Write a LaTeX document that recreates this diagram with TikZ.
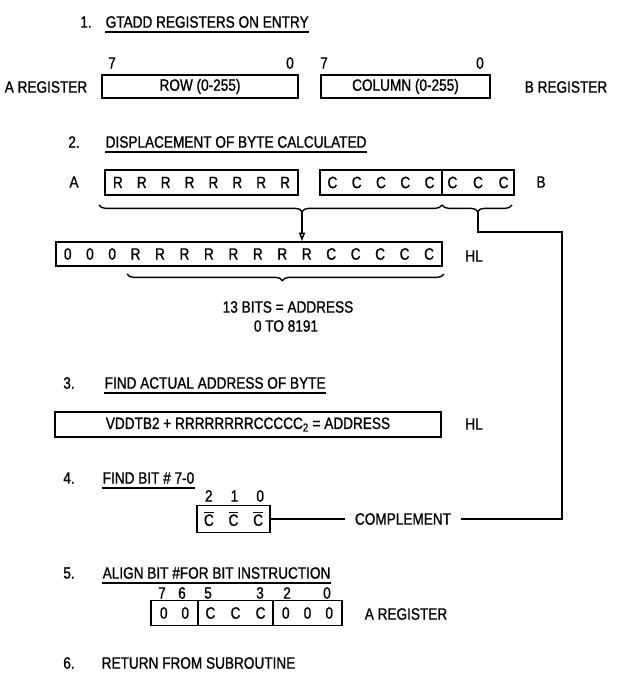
\documentclass[tikz,border=0pt]{standalone}
\usepackage{fontspec}
\setmainfont{Liberation Sans}[FakeStretch=0.83, FakeBold=1]
\usetikzlibrary{positioning, arrows.meta, decorations.pathreplacing}

\newcommand{\spread}[2]{\makebox[#1][s]{#2}}
\newcommand{\cbar}{$\overline{\mbox{C}}$}

\begin{document}
\begin{tikzpicture}[x=0.03cm, y=-0.03cm, line width=1.2pt,
  font=\fontsize{14}{16}\selectfont,
  hd/.style={anchor=west, inner xsep=0pt, inner ysep=3pt},
  ul/.style={line width=1pt},
  reg/.style={draw, line width=1.4pt, inner sep=0pt, outer sep=0pt, minimum height=0.75cm},
  brc/.style={decorate, decoration={brace, mirror, amplitude=0.2cm, aspect=#1}}]
\useasboundingbox (0,0) rectangle (623,677);

% 1. registers on entry
\node (n1) at (86,22) {1.};
\node[hd] (h1) at (105,22) {GTADD REGISTERS ON ENTRY};
\draw[ul] (h1.south west) -- (h1.south east);
\node (ra7) at (112,63) {7};
\node (ra0) at (290,63) {0};
\node (rb7) at (324,63) {7};
\node (rb0) at (480,63) {0};
\node[reg, minimum width=5.88cm, minimum height=0.69cm] (rowbox) at (200,86.5) {ROW (0-255)};
\node[reg, minimum width=5.07cm, minimum height=0.69cm] (colbox) at (405.5,86.5) {COLUMN (0-255)};
\node (areg) at (46,87) {A REGISTER};
\node (breg) at (566,87) {B REGISTER};

% 2. displacement
\node (n2) at (74,142) {2.};
\node[hd] (h2) at (105,142) {DISPLACEMENT OF BYTE CALCULATED};
\draw[ul] (h2.south west) -- (h2.south east);
\node (alab) at (74,182) {A};
\node[reg, minimum width=5.79cm] (rbox) at (201.5,182.5) {\spread{5.31cm}{R R R R R R R R}};
\node[reg, minimum width=3.66cm] (cbox) at (381,182.5) {\spread{3.21cm}{C C C C C}};
\node[reg, minimum width=2.16cm, right=0pt of cbox] (cbits) {\spread{1.83cm}{C C C}};
\node (blab) at (541,182) {B};
\draw[brc=0.592] (99,205) -- (442,205);
\draw[brc=0.51] (442,205) -- (512,205);
\coordinate (tipA) at (302,212);
\coordinate (tipB) at (478,212);
\coordinate (bend) at (562,232);

\node[reg, minimum width=11.58cm, minimum height=0.72cm] (hlbox) at (249,254) {\spread{11.1cm}{0 0 0 R R R R R R R R C C C C C}};
\node (hl1) at (474,256) {HL};
\draw[-{Latex[open,length=8pt,width=6pt]}] (tipA) -- (tipA |- hlbox.north);
\draw[brc=0.49] (127,274) -- (444,274);
\node (bits) at (288,307) {13 BITS = ADDRESS};
\node (range) at (286,326) {0 TO 8191};

% 3. actual address
\node (n3) at (69,383) {3.};
\node[hd] (h3) at (104,383) {FIND ACTUAL ADDRESS OF BYTE};
\draw[ul] (h3.south west) -- (h3.south east);
\node[reg, minimum width=11.58cm] (adbox) at (248,424.5) {VDDTB2 + RRRRRRRRCCCCC\textsubscript{2} = ADDRESS};
\node (hl2) at (474,424) {HL};

% 4. bit number
\node (n4) at (69,478) {4.};
\node[hd] (h4) at (102,478) {FIND BIT \# 7-0};
\draw[ul] (h4.south west) -- (h4.south east);
\node (d210) at (234.5,496) {\spread{1.77cm}{2 1 0}};
\node[reg, minimum width=2.19cm, minimum height=0.8cm] (bitbox) at (233.5,519) {\spread{1.77cm}{\cbar{} \cbar{} \cbar}};
\node[inner xsep=8pt] (comp) at (403,519) {COMPLEMENT};
\draw (bitbox.east) -- (comp.west);
\draw (tipB) |- (bend) |- (comp.east);

% 5. align
\node (n5) at (69,573) {5.};
\node[hd] (h5) at (102,573) {ALIGN BIT \#FOR BIT INSTRUCTION};
\draw[ul] (h5.south west) -- (h5.south east);
\node (p7) at (162,593) {7};
\node (p6) at (182,593) {6};
\node (p5) at (208,593) {5};
\node (p3) at (260,593) {3};
\node (p2) at (287,593) {2};
\node (p0) at (327,593) {0};
\node[reg, minimum width=1.41cm] (seg1) at (174.5,613) {\spread{0.87cm}{0 0}};
\node[reg, minimum width=2.25cm, right=0pt of seg1] (seg2) {\spread{1.8cm}{C C C}};
\node[reg, minimum width=2.07cm, right=0pt of seg2] (seg3) {\spread{1.53cm}{0 0 0}};
\node (areg2) at (406,614) {A REGISTER};

% 6. return
\node (n6) at (69,663) {6.};
\node[hd] (h6) at (101,663) {RETURN FROM SUBROUTINE};
\end{tikzpicture}
\end{document}
